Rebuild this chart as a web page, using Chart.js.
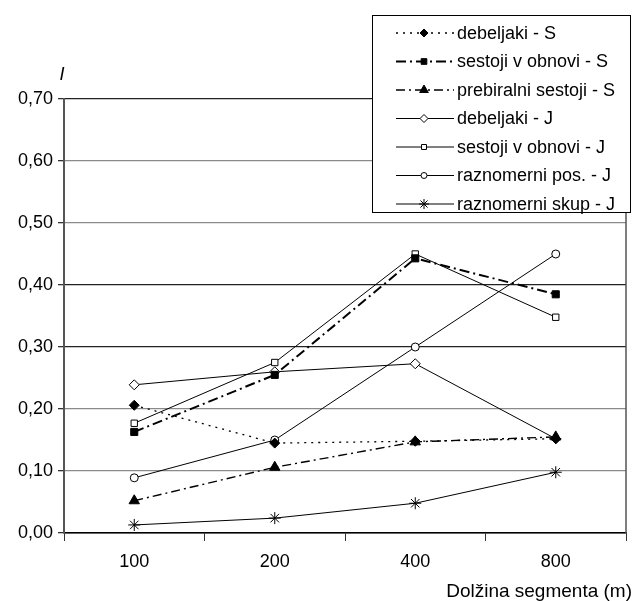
<!DOCTYPE html>
<html lang="sl">
<head>
<meta charset="UTF-8">
<title>Dolžina segmenta</title>
<script src="https://cdn.jsdelivr.net/npm/chart.js"></script>
<style>
  html, body { margin: 0; padding: 0; background: #fff; }
  #wrap { width: 633px; height: 601px; }
</style>
</head>
<body>
<div id="wrap"><canvas id="myChart"></canvas></div>
<script>
// data
const labels = ['100', '200', '400', '800'];
const debeljakiS = [0.206, 0.145, 0.148, 0.152];
const sestojiS = [0.163, 0.255, 0.443, 0.385];
const prebiralniS = [0.052, 0.106, 0.147, 0.155];
const debeljakiJ = [0.239, 0.260, 0.273, 0.152];
const sestojiJ = [0.177, 0.275, 0.450, 0.348];
const raznomerniPos = [0.089, 0.150, 0.300, 0.450];
const raznomerniSkup = [0.013, 0.024, 0.048, 0.098];
const yTicks = [0, 0.1, 0.2, 0.3, 0.4, 0.5, 0.6, 0.7];

const FONT = 'Liberation Sans, Arial, sans-serif';

function series(label, data, style, fill, dash, width, radius) {
    return {
        label: label,
        data: data,
        borderColor: '#000',
        borderWidth: width,
        borderDash: dash,
        pointStyle: style,
        pointRadius: radius,
        pointHoverRadius: radius,
        pointBackgroundColor: fill,
        pointBorderColor: '#000',
        pointBorderWidth: 1,
        tension: 0,
        fill: false
    };
}

const datasets = [
    series('debeljaki - S', debeljakiS, 'rectRot', '#000', [2, 5], 1.3, 5),
    series('sestoji v obnovi - S', sestojiS, 'rect', '#000', [10, 4, 2, 4], 2, 5),
    series('prebiralni sestoji - S', prebiralniS, 'triangle', '#000', [9, 4, 2, 4], 1.4, 6),
    series('debeljaki - J', debeljakiJ, 'rectRot', '#fff', [], 1, 5),
    series('sestoji v obnovi - J', sestojiJ, 'rect', '#fff', [], 1, 4.5),
    series('raznomerni pos. - J', raznomerniPos, 'circle', '#fff', [], 1, 4),
    series('raznomerni skup - J', raznomerniSkup, 'star', '#fff', [], 1, 6)
];

// legend box, axis titles and right frame line
const extras = {
    id: 'extras',
    afterDraw(chart) {
        const ctx = chart.ctx;
        const area = chart.chartArea;
        ctx.save();

        ctx.strokeStyle = '#555';
        ctx.lineWidth = 1.5;
        ctx.beginPath();
        ctx.moveTo(area.right, 212);
        ctx.lineTo(area.right, area.bottom);
        ctx.stroke();

        // legend
        const bx = 372, by = 15, bw = 258, bh = 197;
        ctx.fillStyle = '#fff';
        ctx.fillRect(bx, by, bw, bh);
        ctx.strokeStyle = '#000';
        ctx.lineWidth = 1;
        ctx.strokeRect(bx + 0.5, by + 0.5, bw, bh);

        ctx.font = '18px ' + FONT;
        ctx.textBaseline = 'middle';
        chart.data.datasets.forEach((ds, i) => {
            const y = 33 + i * 28.5;
            ctx.strokeStyle = '#000';
            ctx.lineWidth = ds.borderWidth;
            ctx.setLineDash(ds.borderDash);
            ctx.beginPath();
            ctx.moveTo(396, y);
            ctx.lineTo(454, y);
            ctx.stroke();
            ctx.setLineDash([]);
            ctx.fillStyle = ds.pointBackgroundColor;
            ctx.strokeStyle = '#000';
            ctx.lineWidth = 1;
            Chart.helpers.drawPoint(ctx, {
                pointStyle: ds.pointStyle,
                radius: ds.pointRadius - 1,
                rotation: 0,
                borderWidth: 1
            }, 424, y);
            ctx.fillStyle = '#000';
            ctx.textAlign = 'left';
            ctx.fillText(ds.label, 457, y + 1);
        });

        // axis titles
        ctx.fillStyle = '#000';
        ctx.font = 'italic 18px ' + FONT;
        ctx.textAlign = 'center';
        ctx.fillText('I', 62, 75);
        ctx.font = '19px ' + FONT;
        ctx.textAlign = 'right';
        ctx.fillText('Dolžina segmenta (m)', 632, 592);
        ctx.restore();
    }
};

const gridColor = (c) => {
    const v = Math.round(c.tick.value * 10);
    return (v === 1 || v === 2 || v === 5 || v === 6) ? '#8a8a8a' : '#222';
};

new Chart(document.getElementById('myChart'), {
    type: 'line',
    data: { labels: labels, datasets: datasets },
    options: {
        responsive: true,
        maintainAspectRatio: false,
        animation: false,
        events: [],
        layout: { padding: { top: 99, right: 2, left: 0, bottom: 0 } },
        plugins: {
            legend: { display: false },
            tooltip: { enabled: false }
        },
        scales: {
            x: {
                type: 'category',
                offset: true,
                afterFit(scale) { scale.height = 68; },
                grid: {
                    offset: true,
                    drawOnChartArea: false,
                    drawTicks: true,
                    tickLength: 8,
                    color: '#333'
                },
                border: { color: '#000', width: 1.5 },
                ticks: {
                    color: '#000',
                    font: { family: FONT, size: 18 },
                    padding: 10
                }
            },
            y: {
                min: 0,
                max: 0.7,
                afterFit(scale) { scale.width = 64; },
                afterBuildTicks(scale) {
                    scale.ticks = yTicks.map(v => ({ value: v }));
                },
                grid: {
                    color: gridColor,
                    lineWidth: 1.3,
                    tickLength: 6,
                    tickColor: '#333'
                },
                border: { color: '#555', width: 2 },
                ticks: {
                    color: '#000',
                    font: { family: FONT, size: 18 },
                    padding: 5,
                    callback: v => v.toFixed(2).replace('.', ',')
                }
            }
        }
    },
    plugins: [extras]
});
</script>
</body>
</html>
